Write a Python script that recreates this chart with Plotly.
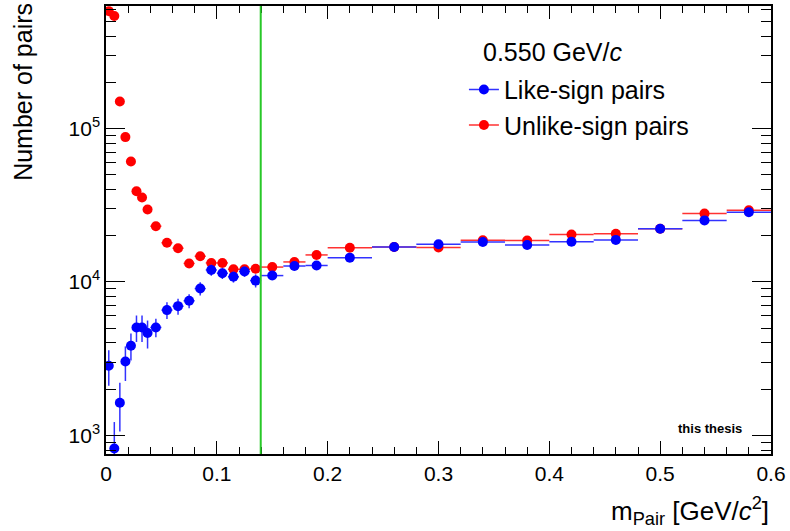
import numpy as np
import plotly.graph_objects as go

# Pair invariant-mass bins (centres and half-widths) in GeV/c^2
m_pair = [0.0025, 0.0075, 0.0125, 0.0175, 0.0225, 0.0275, 0.0325, 0.0375,
          0.045, 0.055, 0.065, 0.075, 0.085, 0.095, 0.105, 0.115, 0.125, 0.135,
          0.15, 0.17, 0.19,
          0.22, 0.26, 0.30, 0.34, 0.38, 0.42, 0.46, 0.50, 0.54, 0.58]
half_width = [0.0025] * 8 + [0.005] * 10 + [0.01] * 3 + [0.02] * 10

# Number of pairs per bin
unlike_sign = [583000, 542000, 150000, 88000, 61000, 39000, 35500, 29700,
               23100, 18000, 16600, 13200, 14700, 13300, 13300, 12100, 12100, 12200,
               12500, 13500, 15000,
               16700, 16900, 16800, 18700, 18600, 20400, 20600, 22200, 27900, 29300]
unlike_sign_err = [9000, 8500, 4000, 2500, 2000, 1400, 1300, 1100,
                   800, 700, 650, 550, 600, 550, 550, 500, 500, 500,
                   450, 450, 450,
                   400, 400, 400, 400, 400, 450, 450, 450, 500, 500]

like_sign = [2840, 820, 1630, 3030, 3840, 5050, 5050, 4640,
             5050, 6550, 6950, 7530, 9050, 11970, 11400, 10800, 11700, 10200,
             11000, 12700, 12800,
             14400, 16900, 17600, 18200, 17400, 18300, 18800, 22200, 25200, 28500]
like_sign_err = [740, 400, 570, 770, 770, 990, 990, 960,
                 700, 810, 830, 790, 900, 1000, 950, 900, 900, 1000,
                 600, 600, 600,
                 500, 500, 500, 500, 500, 500, 500, 550, 600, 650]

pion_mass = 0.1396  # GeV/c^2
pt_label = "0.550 GeV/<i>c</i>"

x_ticks = [0, 0.1, 0.2, 0.3, 0.4, 0.5, 0.6]
x_ticktext = ["0", "0.1", "0.2", "0.3", "0.4", "0.5", "0.6"]
y_ticks = [1e3, 1e4, 1e5]
y_ticktext = ["10<sup>3</sup>", "10<sup>4</sup>", "10<sup>5</sup>"]

FONT = "Liberation Sans, Arial, Helvetica, sans-serif"
BLUE = "rgb(0,0,255)"
RED = "rgb(255,0,0)"

fig = go.Figure()


def add_series(y, yerr, color, errcolor, name, group, rank):
    fig.add_trace(go.Scatter(
        x=m_pair, y=y, mode="markers", showlegend=False,
        marker=dict(color=color, size=10, symbol="circle"),
        error_y=dict(type="data", array=yerr, color=errcolor, thickness=1.5, width=0),
        error_x=dict(type="data", array=half_width, color=errcolor, thickness=1.5, width=0),
    ))
    # legend entry: marker with its horizontal error line
    fig.add_trace(go.Scatter(
        x=[None], y=[None], mode="lines+markers", name=name, legendgroup=group,
        legendrank=rank,
        marker=dict(color=color, size=10), line=dict(color=errcolor, width=1.5),
    ))


add_series(unlike_sign, unlike_sign_err, RED, "rgb(255,50,50)", "Unlike-sign pairs", "b", 2)
add_series(like_sign, like_sign_err, BLUE, "rgb(50,50,255)", "Like-sign pairs", "a", 1)

# charged-pion mass marker
fig.add_shape(type="line", x0=pion_mass, x1=pion_mass, xref="x", y0=0, y1=1, yref="paper",
              line=dict(color="rgb(40,200,40)", width=2))

y_minor = [m * 10 ** e for e in range(2, 6) for m in range(2, 10)]
y_minor = [v for v in y_minor if 700 < v < 7e5]

fig.update_xaxes(
    range=[0, 0.6], tickvals=x_ticks, ticktext=x_ticktext,
    ticks="inside", ticklen=13, tickwidth=1, tickcolor="black",
    minor=dict(ticks="inside", dtick=0.02, ticklen=7, tickwidth=1, tickcolor="black"),
    showline=True, linecolor="black", linewidth=1.5, mirror="allticks",
    showgrid=False, zeroline=False,
    tickfont=dict(family=FONT, size=21, color="black"),
)
fig.update_yaxes(
    type="log", range=[np.log10(755), np.log10(630000)],
    tickvals=y_ticks, ticktext=y_ticktext,
    ticks="inside", ticklen=19, tickwidth=1, tickcolor="black",
    minor=dict(ticks="inside", tickvals=y_minor, ticklen=10, tickwidth=1, tickcolor="black"),
    showline=True, linecolor="black", linewidth=1.5, mirror="allticks",
    showgrid=False, zeroline=False,
    tickfont=dict(family=FONT, size=21, color="black"),
)

fig.add_annotation(text="Number of pairs", textangle=-90, xref="paper", yref="paper",
                   x=-0.126, y=1.012, xanchor="center", yanchor="top", showarrow=False,
                   font=dict(family=FONT, size=25, color="black"))
fig.add_annotation(text="m<sub>Pair</sub> [GeV/<i>c</i><sup>2</sup>]", xref="paper", yref="paper",
                   x=1.0, y=-0.128, xanchor="right", yanchor="middle", showarrow=False,
                   font=dict(family=FONT, size=26, color="black"))
fig.add_annotation(text=pt_label, xref="paper", yref="paper",
                   x=(482 - 106) / 667, y=(454 - 50) / 450, xanchor="left", yanchor="middle",
                   showarrow=False, font=dict(family=FONT, size=25, color="black"))
fig.add_annotation(text="<b>this thesis</b>", xref="paper", yref="paper",
                   x=(746 - 106) / 667, y=(454 - 428) / 450, xanchor="right", yanchor="middle",
                   showarrow=False, font=dict(family=FONT, size=13, color="black"))

fig.update_layout(
    width=790, height=531,
    margin=dict(l=106, r=17, t=4, b=77),
    paper_bgcolor="white", plot_bgcolor="white",
    showlegend=True,
    legend=dict(x=(465 - 106) / 667, y=(454 - 65) / 450, xanchor="left", yanchor="top",
                font=dict(family=FONT, size=25, color="black"),
                bgcolor="rgba(0,0,0,0)", borderwidth=0, itemwidth=30,
                traceorder="grouped", tracegroupgap=0),
)

fig.write_html("out.html")
